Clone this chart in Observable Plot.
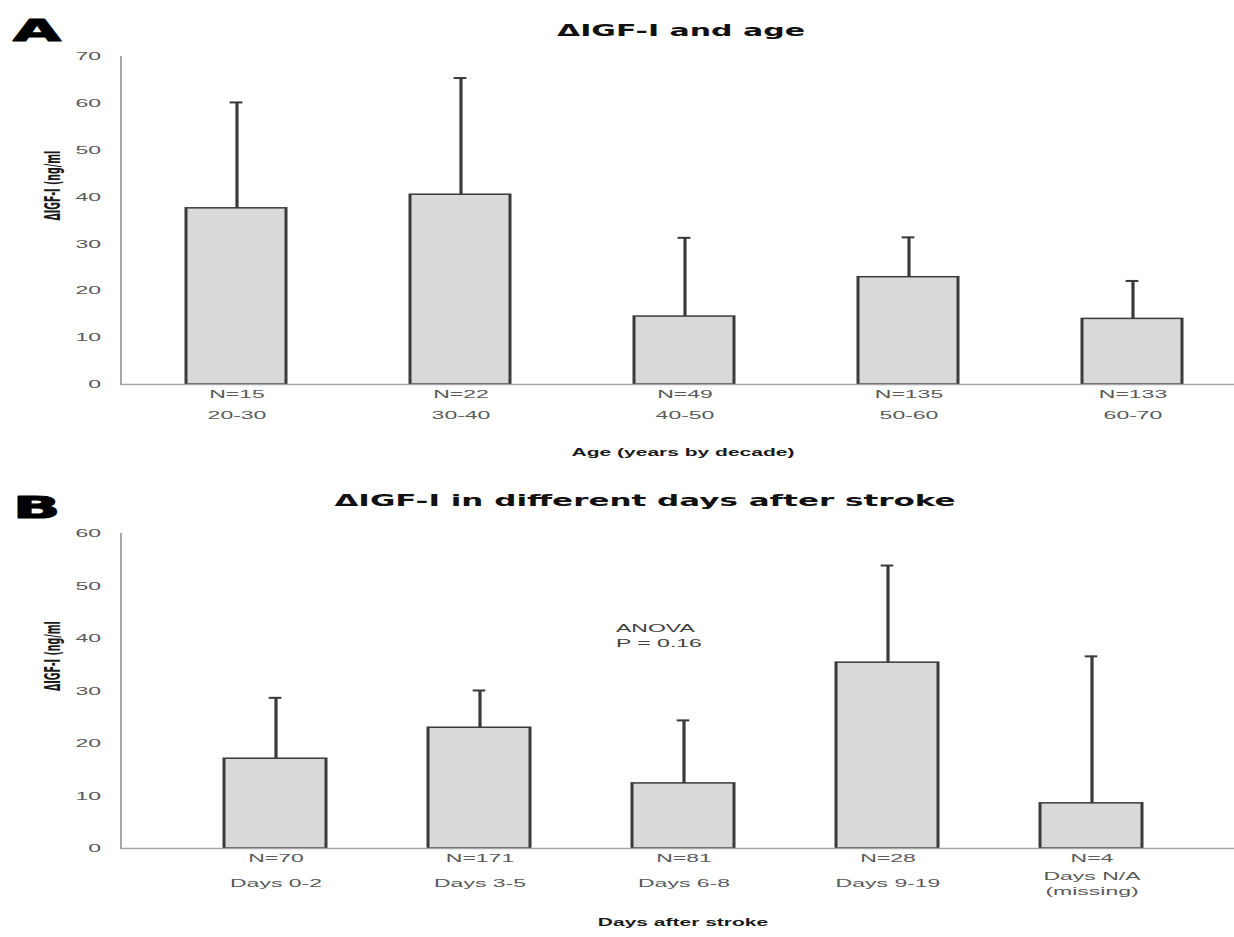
<!DOCTYPE html>
<html>
<head>
<meta charset="utf-8">
<script src="https://cdn.jsdelivr.net/npm/d3@7"></script>
<script src="https://cdn.jsdelivr.net/npm/@observablehq/plot@0.6"></script>
<style>
  html, body { margin: 0; padding: 0; background: white; }
  #chart svg { display: block; }
</style>
</head>
<body>
<div id="chart"></div>
<script>
// ---- Panel A data ----
const ageGroups = ["20-30", "30-40", "40-50", "50-60", "60-70"];
const ageN = [15, 22, 49, 135, 133];
const ageMean = [37.6, 40.5, 14.5, 22.9, 14.0];
const ageUpper = [60.2, 65.4, 31.3, 31.4, 22.1];
const ageTicks = [0, 10, 20, 30, 40, 50, 60, 70];

// ---- Panel B data ----
const dayGroups = ["Days 0-2", "Days 3-5", "Days 6-8", "Days 9-19", "Days N/A\n(missing)"];
const dayN = [70, 171, 81, 28, 4];
const dayMean = [17.1, 23.0, 12.4, 35.4, 8.6];
const dayUpper = [28.7, 30.1, 24.4, 53.9, 36.6];
const dayTicks = [0, 10, 20, 30, 40, 50, 60];

const titleA = "ΔIGF-I and age";
const titleB = "ΔIGF-I in different days after stroke";
const yLabel = "ΔIGF-I (ng/ml";
const xLabelA = "Age (years by decade)";
const xLabelB = "Days after stroke";
const anova = "ANOVA\nP = 0.16";

const VW = 617;          // virtual width, stretched 2x horizontally
const REAL_W = 1234;
const tickFont = "Liberation Sans, Arial, sans-serif";
const gray = "#595959";
const barStroke = "#3a3a3a";

function stretch(svg, h) {
  svg.setAttribute("width", REAL_W);
  svg.setAttribute("height", h);
  svg.setAttribute("preserveAspectRatio", "none");
  svg.style.width = REAL_W + "px";
  svg.style.height = h + "px";
  svg.style.maxWidth = "none";
  svg.style.display = "block";
  return svg;
}

function panel(opts) {
  const data = opts.cats.map((c, i) => ({cat: c, n: "N=" + opts.ns[i], mean: opts.means[i], upper: opts.uppers[i]}));
  const bw = opts.step * (1 - opts.pad);
  const capInset = (bw - 6.5) / 2;
  return Plot.plot({
    width: VW,
    height: opts.height,
    marginLeft: 60,
    marginRight: 0,
    marginTop: opts.marginTop,
    marginBottom: opts.marginBottom,
    style: {fontFamily: tickFont, fontSize: "11.5px", background: "white", overflow: "visible"},
    x: {type: "band", domain: opts.cats, range: opts.range, paddingInner: opts.pad, paddingOuter: opts.pad / 2, axis: null},
    y: {domain: [0, opts.ymax]},
    marks: [
      Plot.axisY({ticks: opts.ticks, tickSize: 0, tickPadding: 10, fill: gray, fontSize: 11.5, label: null}),
      Plot.frame({anchor: "left", stroke: "#a6a6a6", strokeWidth: 1}),
      Plot.ruleX(data, {x: "cat", y1: "mean", y2: "upper", stroke: barStroke, strokeWidth: 1.6}),
      Plot.tickY(data, {x: "cat", y: "upper", stroke: barStroke, strokeWidth: 2, insetLeft: capInset, insetRight: capInset}),
      Plot.barY(data, {x: "cat", y: "mean", fill: "#d9d9d9", stroke: barStroke, strokeWidth: 1.5}),
      Plot.ruleY([0], {stroke: "#a6a6a6", strokeWidth: 1.6}),
      Plot.text(data, {x: "cat", y: 0, text: "n", dy: opts.nDy, fill: gray, fontSize: 11.5, lineAnchor: "middle"}),
      Plot.text(data, {x: "cat", y: 0, text: "cat", dy: opts.catDy, fill: gray, fontSize: 11.5, lineAnchor: "middle", lineHeight: 1.3}),
      Plot.text([opts.xLabel], {frameAnchor: "bottom", dx: 2.5, dy: opts.xLabelDy, fontWeight: "bold", fontSize: 10.5, fill: "#1a1a1a", lineAnchor: "middle"}),
      Plot.text([yLabel], {frameAnchor: "left", dx: -34, rotate: -90, fontFamily: "DejaVu Sans Condensed, Liberation Sans Narrow, DejaVu Sans, sans-serif", fontStretch: "condensed", fontWeight: "bold", fontSize: 10.5, fill: "#1a1a1a", lineAnchor: "middle"}),
      Plot.text([opts.title], {frameAnchor: "top", dx: opts.titleDx, dy: opts.titleDy, fontFamily: "DejaVu Sans, Verdana, sans-serif", fontWeight: "bold", fontSize: opts.titleSize, fill: "#111", lineAnchor: "bottom"}),
      Plot.text([opts.letter], {frameAnchor: "top-left", dx: -54, dy: opts.letterDy, textAnchor: "start", fontFamily: "DejaVu Sans, Arial, sans-serif", fontWeight: "bold", fontSize: 31, fill: "#000", stroke: "#000", strokeWidth: 1.2, lineAnchor: "bottom"}),
      ...(opts.extra || [])
    ]
  });
}

const chart = document.getElementById("chart");

const svgA = panel({
  cats: ageGroups, ns: ageN, means: ageMean, uppers: ageUpper, ticks: ageTicks, ymax: 70,
  height: 468, marginTop: 56, marginBottom: 84,
  range: [60.2, 623.2], step: 112.6, pad: 0.555,
  nDy: 10, catDy: 30, xLabel: xLabelA, xLabelDy: 68,
  title: titleA, titleDx: 1.5, titleDy: -21, titleSize: 15,
  letter: "A", letterDy: -16
});
chart.appendChild(stretch(svgA, 468));

const svgB = panel({
  cats: dayGroups, ns: dayN, means: dayMean, uppers: dayUpper, ticks: dayTicks, ymax: 60,
  height: 469, marginTop: 65, marginBottom: 89,
  range: [85.8, 597.8], step: 102.4, pad: 0.5,
  nDy: 9.5, catDy: 34, xLabel: xLabelB, xLabelDy: 74,
  title: titleB, titleDx: -16.5, titleDy: -28, titleSize: 15.5,
  letter: "B", letterDy: -16,
  extra: [
    Plot.text([anova], {frameAnchor: "top-left", dx: 247.5, dy: 101.5, textAnchor: "start", fill: "#404040", fontSize: 11.5, lineHeight: 1.3, lineAnchor: "middle"})
  ]
});
chart.appendChild(stretch(svgB, 469));
</script>
</body>
</html>
